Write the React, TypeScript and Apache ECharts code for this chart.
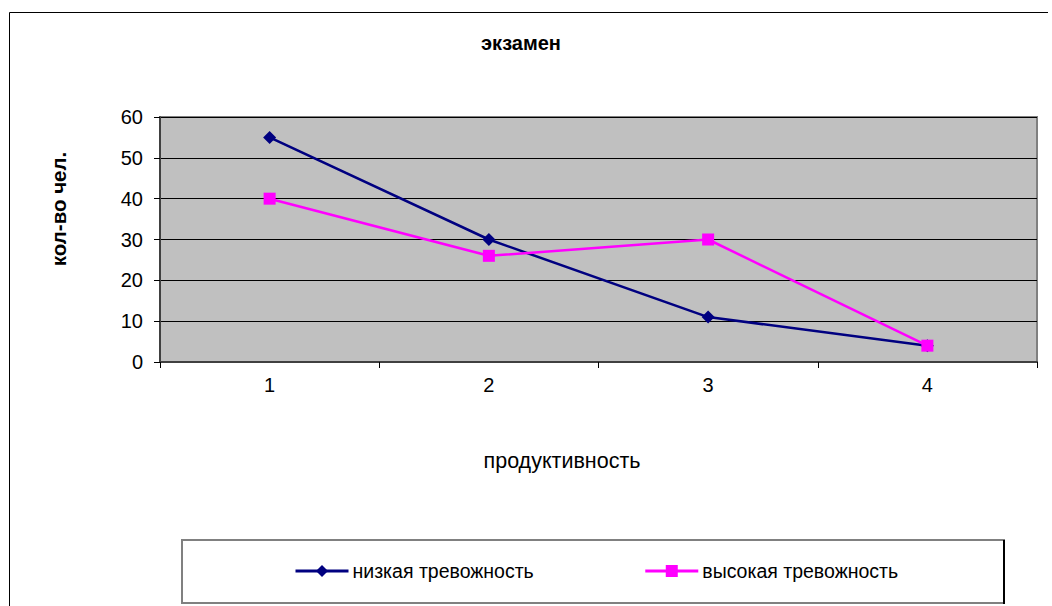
import React, { useEffect, useRef } from "react";
import * as echarts from "echarts";

const categories = ["1", "2", "3", "4"];
const lowAnxiety = [55, 30, 11, 4];
const highAnxiety = [40, 26, 30, 4];
const seriesNames = ["низкая тревожность", "высокая тревожность"];
const titleText = "экзамен";
const xName = "продуктивность";
const yName = "кол-во чел.";

const FONT = "'Liberation Sans', Arial, sans-serif";

export default function App() {
  const ref = useRef<HTMLDivElement>(null);
  useEffect(() => {
    if (!ref.current) return;
    const chart = echarts.init(ref.current, undefined, { renderer: "svg" });
    chart.setOption({
      animation: false,
      backgroundColor: "#ffffff",
      textStyle: { fontFamily: FONT },
      grid: {
        left: 160,
        right: 15,
        top: 117,
        bottom: 244,
        show: true,
        backgroundColor: "#C0C0C0",
        borderColor: "#808080",
        borderWidth: 2,
      },
      xAxis: {
        type: "category",
        data: categories,
        boundaryGap: true,
        axisLine: { show: true, lineStyle: { color: "#404040", width: 2 } },
        axisTick: { show: true, alignWithLabel: false, length: 6, lineStyle: { color: "#000", width: 1 } },
        axisLabel: { color: "#000", fontSize: 20, fontFamily: FONT, margin: 13 },
        splitLine: { show: false },
      },
      yAxis: {
        type: "value",
        min: 0,
        max: 60,
        interval: 10,
        axisLine: { show: true, lineStyle: { color: "#404040", width: 2 } },
        axisTick: { show: true, length: 6, lineStyle: { color: "#000", width: 1 } },
        axisLabel: { color: "#000", fontSize: 20, fontFamily: FONT, margin: 17 },
        splitLine: { show: true, lineStyle: { color: "#000", width: 1 } },
      },
      legend: {
        show: true,
        left: 294,
        top: 561,
        padding: 0,
        orient: "horizontal",
        itemWidth: 53,
        itemHeight: 15,
        itemGap: 110,
        lineStyle: { width: 3 },
        textStyle: { color: "#000", fontSize: 19.5, fontFamily: FONT, padding: [0, 0, 0, -1] },
        data: seriesNames,
      },
      graphic: [
        {
          type: "polyline",
          shape: { points: [[9.5, 700], [9.5, 12.5], [1048, 12.5]] },
          style: { stroke: "#000", lineWidth: 1, fill: "none" },
          silent: true,
        },
        {
          type: "rect",
          shape: { x: 182, y: 540, width: 822, height: 63 },
          style: { stroke: "#808080", lineWidth: 2, fill: "none" },
          silent: true,
        },
        {
          type: "line",
          shape: { x1: 1004, y1: 540, x2: 1004, y2: 604 },
          style: { stroke: "#000", lineWidth: 2 },
          silent: true,
        },
        {
          type: "text",
          x: 521,
          y: 43,
          style: {
            text: titleText,
            fontFamily: FONT,
            fontSize: 20,
            fontWeight: "bold",
            fill: "#000",
            textAlign: "center",
            textVerticalAlign: "middle",
          },
        },
        {
          type: "text",
          x: 562,
          y: 461,
          style: {
            text: xName,
            fontFamily: FONT,
            fontSize: 21.5,
            fill: "#000",
            textAlign: "center",
            textVerticalAlign: "middle",
          },
        },
        {
          type: "text",
          x: 58,
          y: 209,
          rotation: Math.PI / 2,
          style: {
            text: yName,
            fontFamily: FONT,
            fontSize: 20.5,
            fontWeight: "bold",
            fill: "#000",
            textAlign: "center",
            textVerticalAlign: "middle",
          },
        },
      ],
      series: [
        {
          name: seriesNames[0],
          type: "line",
          data: lowAnxiety,
          symbol: "diamond",
          symbolSize: 13,
          lineStyle: { color: "#000080", width: 2.5 },
          itemStyle: { color: "#000080" },
          z: 2,
        },
        {
          name: seriesNames[1],
          type: "line",
          data: highAnxiety,
          symbol: "rect",
          symbolSize: 12,
          lineStyle: { color: "#FF00FF", width: 2.5 },
          itemStyle: { color: "#FF00FF" },
          z: 3,
        },
      ],
    });
    return () => chart.dispose();
  }, []);
  return (
    <div
      ref={ref}
      style={{ position: "fixed", left: 0, top: 0, width: 1052, height: 606 }}
    />
  );
}
